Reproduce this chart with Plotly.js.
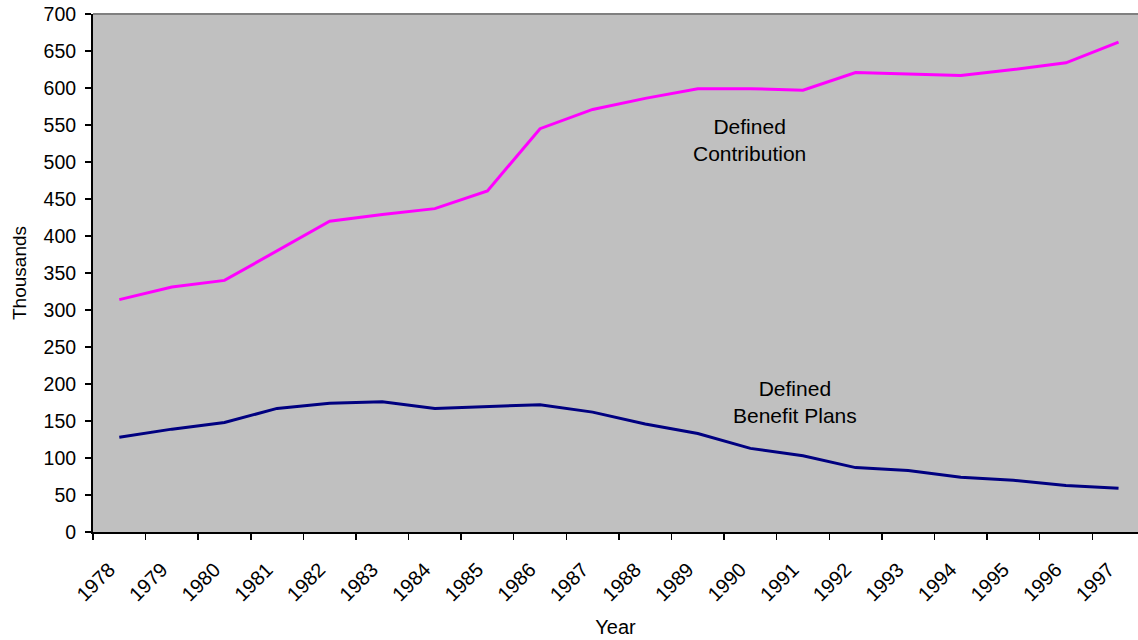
<!DOCTYPE html>
<html>
<head>
<meta charset="utf-8">
<script src="https://cdn.plot.ly/plotly-3.0.1.min.js"></script>
<style>html,body{margin:0;padding:0;overflow:hidden;background:#fff;}#chart{width:1138px;height:640px;}</style>
</head>
<body>
<div id="chart"></div>
<script>
const years = ['1978','1979','1980','1981','1982','1983','1984','1985','1986','1987','1988','1989','1990','1991','1992','1993','1994','1995','1996','1997'];
const definedContribution = [314, 331, 340, 380, 420, 429, 437, 461, 545, 571, 586, 599, 599, 597, 621, 619, 617, 625, 634, 662];
const definedBenefit = [128, 139, 148, 167, 174, 176, 167, 170, 172, 162, 146, 133, 113, 103, 87, 83, 74, 70, 63, 59];
const yTicks = [0, 50, 100, 150, 200, 250, 300, 350, 400, 450, 500, 550, 600, 650, 700];
const labelDC = 'Defined<br>Contribution';
const labelDB = 'Defined<br>Benefit Plans';

const FONT = 'Liberation Sans, Arial, sans-serif';

const traces = [
  {x: years, y: definedContribution, type: 'scatter', mode: 'lines', name: 'Defined Contribution',
   line: {color: '#FF00FF', width: 3}},
  {x: years, y: definedBenefit, type: 'scatter', mode: 'lines', name: 'Defined Benefit Plans',
   line: {color: '#000080', width: 3}}
];

const layout = {
  width: 1138, height: 640,
  margin: {l: 93, r: 0, t: 14, b: 108},
  paper_bgcolor: '#FFFFFF',
  plot_bgcolor: '#C0C0C0',
  showlegend: false,
  font: {family: FONT, color: '#000', size: 19},
  xaxis: {
    type: 'category',
    range: [-0.5, 19.37],
    tickson: 'boundaries',
    ticks: 'outside', ticklen: 6, tickwidth: 1.5, tickcolor: '#000',
    tickangle: -45,
    ticklabelstandoff: 16,
    ticklabelshift: -10,
    tickfont: {family: FONT, size: 20, color: '#000'},
    showgrid: false, zeroline: false,
    showline: true, linecolor: '#000', linewidth: 2,
    title: {text: 'Year', font: {family: FONT, size: 20, color: '#000'}, standoff: 16}
  },
  yaxis: {
    range: [0, 700],
    tickvals: yTicks,
    ticks: 'outside', ticklen: 6, tickwidth: 1.5, tickcolor: '#000',
    ticklabelstandoff: 5,
    tickfont: {family: FONT, size: 19.5, color: '#000'},
    showgrid: false, zeroline: false,
    showline: true, linecolor: '#000', linewidth: 2,
    title: {text: 'Thousands', font: {family: FONT, size: 19, color: '#000'}, standoff: 12}
  },
  shapes: [
    {type: 'line', xref: 'paper', yref: 'paper', x0: 0, x1: 1, y0: 1, y1: 1,
     line: {color: '#808080', width: 2}}
  ],
  annotations: [
    {xref: 'paper', yref: 'paper', x: 0.6287, y: 0.809, xanchor: 'center', yanchor: 'top',
     text: labelDC, showarrow: false, align: 'center',
     font: {family: FONT, size: 21, color: '#000'}},
    {xref: 'paper', yref: 'paper', x: 0.6718, y: 0.303, xanchor: 'center', yanchor: 'top',
     text: labelDB, showarrow: false, align: 'center',
     font: {family: FONT, size: 21, color: '#000'}}
  ]
};

Plotly.newPlot('chart', traces, layout, {displayModeBar: false, staticPlot: true});
</script>
</body>
</html>
